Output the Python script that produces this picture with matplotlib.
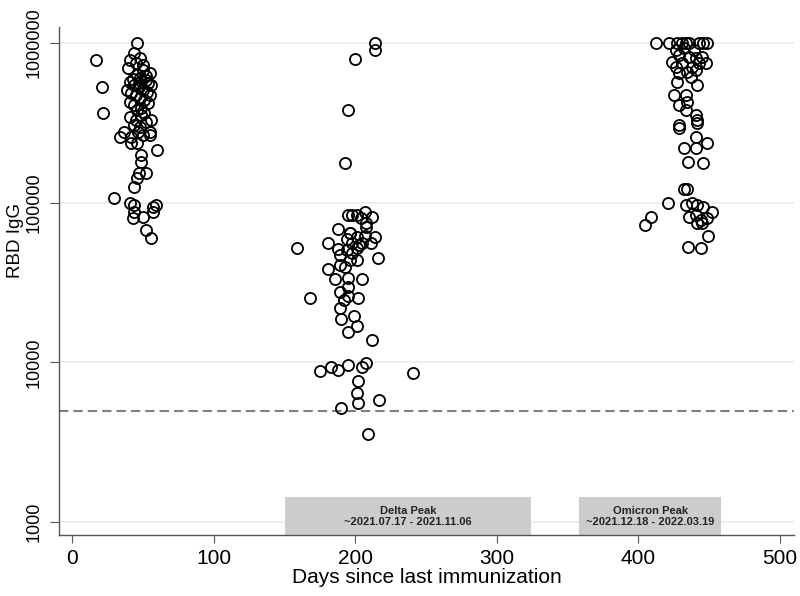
import matplotlib
matplotlib.use("Agg")
import matplotlib.pyplot as plt
from matplotlib.patches import Rectangle

matplotlib.rcParams["font.family"] = ["Liberation Sans", "DejaVu Sans"]

# days since last immunization / RBD IgG
early_days = [17, 21, 22, 46, 30, 60, 44, 41, 57, 59, 44, 57, 43, 50, 52, 56,
              34, 41.5, 50, 55, 42, 46, 49, 49, 47, 52, 46, 44,
              44, 48, 41, 39.5, 50, 55, 41, 56, 39, 55, 41, 53.6, 49, 41, 56, 44,
              37, 46.5, 55, 45, 50, 46, 48, 52, 44, 47, 50, 53, 45, 48, 51, 44,
              49, 46, 51, 43, 52, 47, 54, 42, 49, 45, 48, 52]
early_igg = [783000, 531000, 365000, 1000000, 107000, 214000, 97000, 100000, 94000, 97000,
             87000, 88000, 80000, 82000, 68000, 60400,
             258000, 258000, 266000, 266000, 237000, 237000, 200000, 180000, 154000, 154000,
             143000, 126000,
             866000, 806000, 783000, 698000, 678000, 649000, 570000, 547000, 508000, 473000,
             428000, 422000, 355000, 345000, 330000, 307000,
             278000, 278000, 278000, 750000, 729000, 631000, 604000, 587000, 547000, 531000,
             508000, 494000, 473000, 453000, 440000, 410000,
             393000, 381000, 365000, 600000, 620000, 560000, 560000, 490000, 580000, 330000,
             300000, 320000]

delta_days = [214, 214, 200, 195, 193, 159, 168, 241, 217, 190, 202, 201, 202, 209,
              175, 183, 188, 195, 205, 208, 212, 201, 195, 190, 199, 189, 195, 202, 192,
              189, 195, 186, 195, 204.5, 181, 189, 193, 216, 201, 189, 181, 188, 187.6,
              196, 214, 211, 207, 203,
              195, 197.5, 201, 206.6, 212, 204, 208, 196, 194, 201, 197.5, 205, 194,
              197.5, 201, 196, 208]
delta_igg = [1000000, 904000, 794000, 381000, 178000, 52000, 25500, 8540, 5800, 5150,
             5540, 6400, 7600, 3550,
             8800, 9300, 9000, 9700, 9300, 9860, 13900, 16800, 15400, 18600, 19600, 22000,
             25900, 25500, 24500,
             27800, 29800, 33500, 33800, 33500, 38600, 41000, 39800, 45300, 52000, 47000,
             56200, 51300, 68800,
             64900, 61000, 56200, 62000, 54600,
             84000, 84000, 84000, 87800, 82000, 80500, 75000, 64900, 58900, 61000, 56200,
             56200, 50800, 48500, 44000, 44000, 70000]

omicron_days = [412.6, 421.7, 427.5, 431, 434, 435.8, 443, 446, 448.5,
                424, 428.8, 435.8, 440.7, 445, 447.8, 426.7, 431, 438, 443, 428.8, 434.6,
                440.7, 427.5, 437, 441.5, 425, 434, 428.8, 434.6, 434, 440.7, 441.5,
                428.8, 428.8, 441.5, 440.7, 448.5, 432, 440.7, 435, 446,
                432, 434.6, 421, 434, 438, 441.5, 446, 452, 435.8, 440.7, 444, 448.5,
                441.5, 445, 409, 405, 449, 435, 444, 432, 439, 426.7]
omicron_igg = [1000000, 1000000, 1000000, 1000000, 1000000, 1000000, 1000000, 1000000, 1000000,
               761000, 841000, 818000, 806000, 818000, 750000, 708000, 750000, 708000, 750000,
               649000, 659000,
               678000, 570000, 613000, 547000, 473000, 473000, 410000, 428000, 381000, 355000,
               330000,
               307000, 294000, 316000, 258000, 237000, 221000, 221000, 180000, 178000,
               122000, 122000, 100000, 97000, 100000, 97000, 94000, 88000, 82000, 84000,
               78000, 80500,
               75000, 75000, 82000, 73000, 62000, 53000, 52000, 931000, 904000, 904000]

threshold = 5000
peaks = [("Delta Peak", "~2021.07.17 - 2021.11.06", 150.2, 324.4),
         ("Omicron Peak", "~2021.12.18 - 2022.03.19", 358.3, 458.4)]

fig = plt.figure(figsize=(8, 5.96), dpi=100)
ax = fig.add_axes([0.07375, 0.1023, 0.9188, 0.8523])
ax.set_yscale("log")
ax.set_xlim(-9.2, 510)
ax.set_ylim(830, 1.26e6)

for v in [1e3, 1e4, 1e5, 1e6]:
    ax.axhline(v, color="#e4eef0", lw=1.2, zorder=0)

ax.axhline(threshold, color="#808080", lw=1.5, ls=(0, (4.5, 2.4)), zorder=1)

for name, dates, x0, x1 in peaks:
    ax.add_patch(Rectangle((x0, 830), x1 - x0, 1432 - 830, facecolor="#cccccc",
                           edgecolor="none", zorder=2))
    ax.text((x0 + x1) / 2, 1090, name + "\n" + dates, ha="center", va="center",
            fontsize=8, fontweight="bold", color="#222222", linespacing=1.1, zorder=3)

for d, v in [(early_days, early_igg), (delta_days, delta_igg), (omicron_days, omicron_igg)]:
    ax.plot(d, v, ls="none", marker="o", ms=8, mfc="none", mec="black", mew=1.3, zorder=4)

for s in ["top", "right"]:
    ax.spines[s].set_visible(False)
for s in ["left", "bottom"]:
    ax.spines[s].set_color("#555555")
    ax.spines[s].set_linewidth(1.0)

ax.set_xticks([0, 100, 200, 300, 400, 500])
ax.set_yticks([1000, 10000, 100000, 1000000])
ax.set_yticklabels(["1000", "10000", "100000", "1000000"])
ax.minorticks_off()
ax.tick_params(axis="x", labelsize=15, length=6, color="#555555", pad=4)
ax.tick_params(axis="y", labelsize=13, length=6.5, color="#555555", labelrotation=90, pad=5)
for lab in ax.get_yticklabels():
    lab.set_va("center")

ax.set_xlabel("Days since last immunization", fontsize=15, labelpad=0)
ax.set_ylabel("RBD IgG", fontsize=13.5)
ax.yaxis.set_label_coords(-0.047, 0.58)

fig.savefig("out.png", dpi=100)
